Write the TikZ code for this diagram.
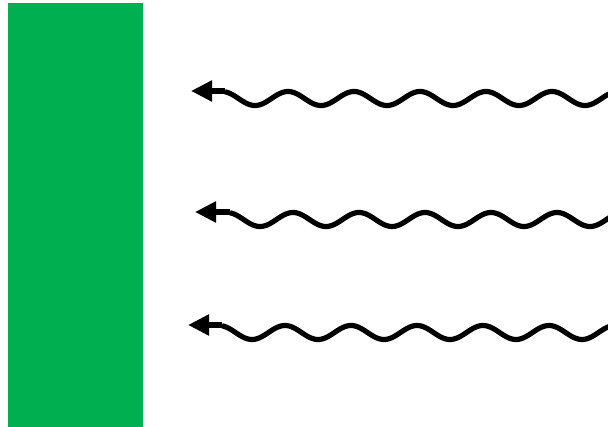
\documentclass[tikz,border=0pt]{standalone}
\usepackage{tikz}
\usetikzlibrary{arrows.meta}

\definecolor{leafgreen}{HTML}{00B050}

\begin{document}
\begin{tikzpicture}[x=1pt, y=-1pt, >={Triangle[length=21pt,width=20pt]},
    wave/.style={line width=5.2pt, black},
    stem/.style={line width=5.6pt, black, ->}]
    \useasboundingbox (0,0) rectangle (608,427);

    % Plate
    \fill[leafgreen] (8,3) rectangle (143,427);

    % Incoming waves
    \foreach \s/\c/\t [count=\i] in {225/98.5/191, 230/219.5/195, 222/332.5/188} {
        \coordinate (start\i) at (\s, {\c-7.5});
        \coordinate (tip\i) at (\t, {\c-7.5});
        \draw[wave] plot[domain=\s:612, samples=240, smooth]
            (\x, {\c+7*cos((\x-\s-30)*5.4545)});
        \draw[stem] (start\i) -- (tip\i);
    }
\end{tikzpicture}
\end{document}
